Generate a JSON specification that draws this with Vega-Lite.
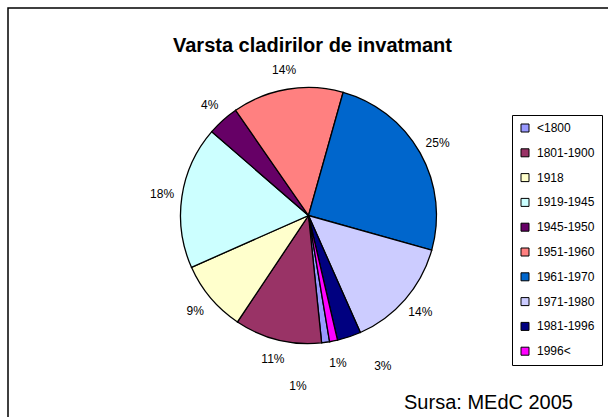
{
  "$schema": "https://vega.github.io/schema/vega-lite/v6.json",
  "autosize": {"type": "none"},
  "padding": {"left": 8, "top": 8, "right": 0, "bottom": 0},
  "width": 601,
  "height": 415,
  "background": "white",
  "view": {"stroke": "black", "strokeWidth": 1.5, "fill": "white"},
  "title": {
    "text": "Varsta cladirilor de invatmant",
    "font": "Liberation Sans",
    "fontSize": 20,
    "fontWeight": "bold",
    "color": "black",
    "anchor": "middle",
    "offset": -48,
    "dx": 4
  },
  "data": {
    "values": [
      {"period": "<1800", "pct": 0.01, "idx": 1},
      {"period": "1801-1900", "pct": 0.11, "idx": 2},
      {"period": "1918", "pct": 0.09, "idx": 3},
      {"period": "1919-1945", "pct": 0.18, "idx": 4},
      {"period": "1945-1950", "pct": 0.04, "idx": 5},
      {"period": "1951-1960", "pct": 0.14, "idx": 6},
      {"period": "1961-1970", "pct": 0.25, "idx": 7},
      {"period": "1971-1980", "pct": 0.14, "idx": 8},
      {"period": "1981-1996", "pct": 0.03, "idx": 9},
      {"period": "1996<", "pct": 0.01, "idx": 10}
    ]
  },
  "layer": [
    {
      "mark": {"type": "arc", "outerRadius": 128, "stroke": "black", "strokeWidth": 1.3},
      "encoding": {
        "theta": {"field": "pct", "type": "quantitative", "stack": true, "scale": {"range": [2.976, 9.259]}},
        "order": {"field": "idx", "type": "quantitative"},
        "color": {
          "field": "period",
          "type": "nominal",
          "scale": {
            "domain": ["<1800", "1801-1900", "1918", "1919-1945", "1945-1950", "1951-1960", "1961-1970", "1971-1980", "1981-1996", "1996<"],
            "range": ["#9999FF", "#993366", "#FFFFCC", "#CCFFFF", "#660066", "#FF8080", "#0066CC", "#CCCCFF", "#000080", "#FF00FF"]
          },
          "legend": {
            "title": null,
            "orient": "none",
            "legendX": 504,
            "legendY": 107,
            "strokeColor": "black",
            "fillColor": "white",
            "padding": 7,
            "symbolType": "square",
            "symbolSize": 64,
            "symbolStrokeColor": "black",
            "symbolStrokeWidth": 1,
            "symbolOpacity": 1,
            "labelFont": "Liberation Sans",
            "labelFontSize": 12,
            "labelColor": "black",
            "labelOffset": 6,
            "rowPadding": 12.8
          }
        }
      }
    },
    {
      "mark": {"type": "text", "radius": 148, "font": "Liberation Sans", "fontSize": 12, "color": "black"},
      "encoding": {
        "theta": {"field": "pct", "type": "quantitative", "stack": true},
        "order": {"field": "idx", "type": "quantitative"},
        "detail": {"field": "period", "type": "nominal"},
        "text": {"condition": {"test": "datum.pct > 0.03", "field": "pct", "type": "quantitative", "format": ".0%"}, "value": ""}
      }
    },
    {
      "mark": {"type": "text", "radius": 146, "font": "Liberation Sans", "fontSize": 12, "color": "black", "dx": -30, "dy": 26},
      "encoding": {
        "theta": {"field": "pct", "type": "quantitative", "stack": true},
        "order": {"field": "idx", "type": "quantitative"},
        "detail": {"field": "period", "type": "nominal"},
        "text": {"condition": {"test": "datum.period === '<1800'", "field": "pct", "type": "quantitative", "format": ".0%"}, "value": ""}
      }
    },
    {
      "mark": {"type": "text", "radius": 150, "font": "Liberation Sans", "fontSize": 12, "color": "black"},
      "encoding": {
        "theta": {"field": "pct", "type": "quantitative", "stack": true},
        "order": {"field": "idx", "type": "quantitative"},
        "detail": {"field": "period", "type": "nominal"},
        "text": {"condition": {"test": "datum.period === '1996<'", "field": "pct", "type": "quantitative", "format": ".0%"}, "value": ""}
      }
    },
    {
      "mark": {"type": "text", "radius": 146, "font": "Liberation Sans", "fontSize": 12, "color": "black", "dx": 28, "dy": 12},
      "encoding": {
        "theta": {"field": "pct", "type": "quantitative", "stack": true},
        "order": {"field": "idx", "type": "quantitative"},
        "detail": {"field": "period", "type": "nominal"},
        "text": {"condition": {"test": "datum.period === '1981-1996'", "field": "pct", "type": "quantitative", "format": ".0%"}, "value": ""}
      }
    },
    {
      "data": {"values": [{"note": "Sursa: MEdC 2005"}]},
      "mark": {"type": "text", "align": "right", "baseline": "alphabetic", "font": "Liberation Sans", "fontSize": 20, "color": "black", "dx": -36, "dy": -14},
      "encoding": {
        "text": {"field": "note", "type": "nominal"},
        "x": {"value": "width"},
        "y": {"value": "height"}
      }
    }
  ]
}
